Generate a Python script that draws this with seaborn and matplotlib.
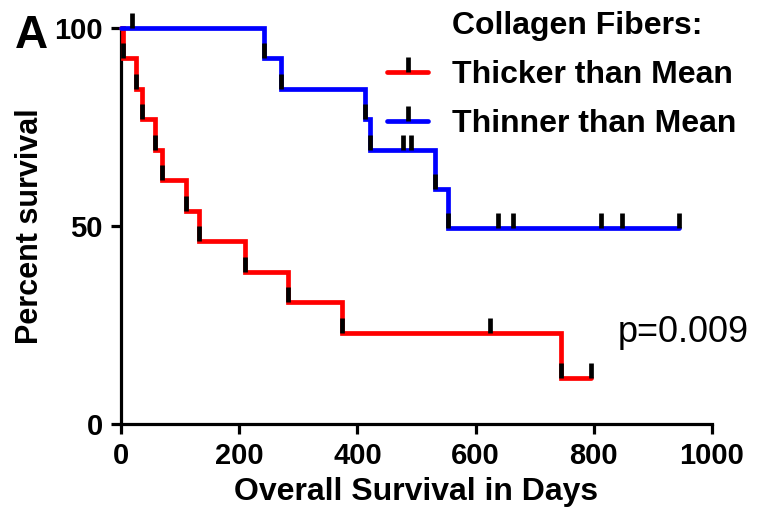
import matplotlib
matplotlib.use("Agg")
import matplotlib.pyplot as plt
from matplotlib.path import Path
from matplotlib.lines import Line2D
import seaborn as sns
import pandas as pd

# ---- data ----
thick_step_days = [0, 3, 25, 36, 57, 69, 110, 132, 210, 283, 374, 745, 796]
thick_step_surv = [100, 92.3, 84.6, 76.9, 69.2, 61.5, 53.8, 46.2, 38.5, 30.8, 23.1, 11.5, 11.5]
thick_mark_days = [3, 25, 36, 57, 69, 110, 132, 210, 283, 374, 624, 745, 796]
thick_mark_surv = [92.3, 84.6, 76.9, 69.2, 61.5, 53.8, 46.2, 38.5, 30.8, 23.1, 23.1, 11.5, 11.5]

thin_step_days = [0, 242, 271, 413, 421, 531, 554, 945]
thin_step_surv = [100, 92.3, 84.6, 76.9, 69.2, 59.3, 49.4, 49.4]
thin_mark_days = [18, 242, 271, 413, 421, 478, 491, 531, 554, 638, 664, 812, 847, 945]
thin_mark_surv = [100, 92.3, 84.6, 76.9, 69.2, 69.2, 69.2, 59.3, 49.4, 49.4, 49.4, 49.4, 49.4, 49.4]

group_labels = ["Thicker than Mean", "Thinner than Mean"]
legend_title = "Collagen Fibers:"
p_text = "p=0.009"
x_ticks = [0, 200, 400, 600, 800, 1000]
y_ticks = [0, 50, 100]

# ---- styling ----
sns.set_style("ticks")
plt.rcParams["font.family"] = ["Liberation Sans", "DejaVu Sans"]
plt.rcParams["font.weight"] = "bold"
plt.rcParams["axes.labelweight"] = "bold"
for k in ("text.color", "axes.labelcolor", "xtick.color", "ytick.color", "axes.edgecolor"):
    plt.rcParams[k] = "black"

RED = "#ff0000"
BLUE = "#0000ff"
LW = 3.4
tick_marker = Path([(0, 0), (0, 1)])  # vertical tick rising from the point
MS = 21
MEW = 3.4

fig = plt.figure(figsize=(7.6, 5.19), dpi=100)
ax = fig.add_axes([121 / 760, 1 - 424 / 519, 591 / 760, 396 / 519])

df_thick = pd.DataFrame({"days": thick_step_days, "surv": thick_step_surv})
df_thin = pd.DataFrame({"days": thin_step_days, "surv": thin_step_surv})
mk_thick = pd.DataFrame({"days": thick_mark_days, "surv": thick_mark_surv})
mk_thin = pd.DataFrame({"days": thin_mark_days, "surv": thin_mark_surv})

sns.lineplot(data=df_thick, x="days", y="surv", ax=ax, color=RED, lw=LW,
             drawstyle="steps-post", estimator=None, sort=False,
             solid_joinstyle="miter", clip_on=False, zorder=3)
sns.lineplot(data=df_thin, x="days", y="surv", ax=ax, color=BLUE, lw=LW,
             drawstyle="steps-post", estimator=None, sort=False,
             solid_joinstyle="miter", clip_on=False, zorder=4)
for mk in (mk_thick, mk_thin):
    sns.lineplot(data=mk, x="days", y="surv", ax=ax, estimator=None, sort=False,
                 linestyle="none", marker=tick_marker, markersize=MS,
                 markeredgewidth=MEW, markeredgecolor="black",
                 markerfacecolor="none", color="black", clip_on=False, zorder=5)

ax.set_xlim(0, 1000)
ax.set_ylim(0, 100)
ax.set_xticks(x_ticks)
ax.set_yticks(y_ticks)
sns.despine(ax=ax)
for s in ("left", "bottom"):
    ax.spines[s].set_linewidth(2.3)
    ax.spines[s].set_color("black")
ax.tick_params(axis="both", width=2.3, length=7.5, labelsize=21, colors="black")
ax.tick_params(axis="y", pad=5.5)
ax.tick_params(axis="x", pad=5.5)
for lab in ax.get_xticklabels() + ax.get_yticklabels():
    lab.set_fontweight("bold")

ax.set_xlabel("Overall Survival in Days", fontsize=23, fontweight="bold", labelpad=5, color="black")
ax.set_ylabel("Percent survival", fontsize=22, fontweight="bold", labelpad=7, color="black")

ax.text(841, 23.2, p_text, fontsize=26, fontweight="normal", va="center", ha="left", color="black")

fig.text(15 / 760, 1 - 48 / 519, "A", fontsize=33, fontweight="bold", ha="left", va="baseline", color="black")

blank = Line2D([], [], linestyle="none", marker=None)
h_thick = Line2D([], [], color=RED, lw=LW, marker=tick_marker, markersize=MS,
                 markeredgewidth=MEW, markeredgecolor="black", markerfacecolor="none")
h_thin = Line2D([], [], color=BLUE, lw=LW, marker=tick_marker, markersize=MS,
                markeredgewidth=MEW, markeredgecolor="black", markerfacecolor="none")
leg = ax.legend([blank, h_thick, h_thin], [legend_title] + group_labels,
                loc="upper left", bbox_to_anchor=((387 - 121) / 591, (424 - 11) / 396),
                frameon=False, fontsize=23, numpoints=1, handlelength=1.29,
                handletextpad=0.75, labelspacing=0.6, borderpad=0, borderaxespad=0)
for t in leg.get_texts():
    t.set_fontweight("bold")
    t.set_color("black")
leg.set_zorder(10)

fig.savefig("out.png", dpi=100)
